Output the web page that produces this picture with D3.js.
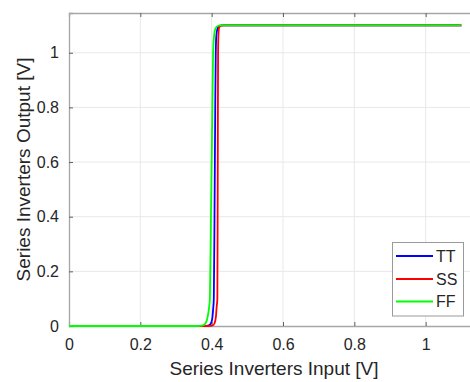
<!DOCTYPE html>
<html>
<head>
<meta charset="utf-8">
<script src="https://cdn.jsdelivr.net/npm/d3@7"></script>
<style>
  html, body { margin: 0; padding: 0; background: #fff; }
  svg { display: block; font-family: "Liberation Sans", Arial, sans-serif; }
</style>
</head>
<body>
<svg id="chart" width="470" height="382"></svg>
<script>
// Voltage transfer curves of the inverter chain at three process corners
const seriesNames = ["TT", "SS", "FF"];
const seriesColors = ["#0000ff", "#ff0000", "#00ff00"];

const ttInput  = [0, 0.380, 0.392, 0.398, 0.402, 0.404, 0.406, 0.408, 0.410, 0.4115, 0.413, 0.417, 0.423, 0.432, 1.1];
const ttOutput = [0, 0, 0.002, 0.010, 0.030, 0.060, 0.100, 0.400, 0.800, 1.000, 1.060, 1.090, 1.099, 1.1, 1.1];

const ssInput  = [0, 0.390, 0.403, 0.408, 0.412, 0.414, 0.416, 0.417, 0.418, 0.419, 0.421, 0.426, 0.435, 1.1];
const ssOutput = [0, 0, 0.002, 0.010, 0.035, 0.070, 0.100, 0.550, 1.000, 1.065, 1.092, 1.099, 1.1, 1.1];

const ffInput  = [0, 0.360, 0.375, 0.383, 0.389, 0.393, 0.395, 0.398, 0.401, 0.404, 0.407, 0.411, 0.417, 0.426, 1.1];
const ffOutput = [0, 0, 0.002, 0.010, 0.035, 0.070, 0.100, 0.400, 0.700, 1.000, 1.065, 1.090, 1.098, 1.1, 1.1];

const xTicks = [0, 0.2, 0.4, 0.6, 0.8, 1];
const yTicks = [0, 0.2, 0.4, 0.6, 0.8, 1];

const series = [
  { name: seriesNames[0], color: seriesColors[0], pts: d3.zip(ttInput, ttOutput) },
  { name: seriesNames[1], color: seriesColors[1], pts: d3.zip(ssInput, ssOutput) },
  { name: seriesNames[2], color: seriesColors[2], pts: d3.zip(ffInput, ffOutput) }
];

const svg = d3.select("#chart");
const plotL = 69, plotT = 13, plotB = 326, plotR = 497;

const x = d3.scaleLinear().domain([0, 1.2]).range([plotL, plotR]);
const y = d3.scaleLinear().domain([0, 1.1455]).range([plotB, plotT]);

const textColor = "#262626";
const axisColor = "#a6a6a6";

// grid
const grid = svg.append("g");
grid.selectAll(".gx").data(xTicks.slice(1)).join("line")
  .attr("x1", d => x(d)).attr("x2", d => x(d))
  .attr("y1", plotT).attr("y2", plotB)
  .attr("stroke", "#e8e8e8").attr("stroke-width", 1);
grid.selectAll(".gy").data(yTicks.slice(1)).join("line")
  .attr("x1", plotL).attr("x2", plotR)
  .attr("y1", d => y(d)).attr("y2", d => y(d))
  .attr("stroke", "#e8e8e8").attr("stroke-width", 1);

// axes with inward ticks
const xAxis = svg.append("g").attr("transform", `translate(0,${plotB})`)
  .call(d3.axisBottom(x).tickValues(xTicks).tickSize(-4).tickPadding(13)
    .tickFormat(d => d3.format("~g")(d)));
const xAxisTop = svg.append("g").attr("transform", `translate(0,${plotT})`)
  .call(d3.axisTop(x).tickValues(xTicks).tickSize(-4).tickFormat(""));
const yAxis = svg.append("g").attr("transform", `translate(${plotL},0)`)
  .call(d3.axisLeft(y).tickValues(yTicks).tickSize(-4).tickPadding(10)
    .tickFormat(d => d3.format("~g")(d)));

[xAxis, xAxisTop, yAxis].forEach(g => {
  g.select(".domain").attr("stroke", axisColor).attr("stroke-width", 1.3);
  g.selectAll(".tick line").attr("stroke", "#606060");
  g.selectAll("text").attr("fill", textColor).style("font-size", "16px")
    .style("font-family", "'Liberation Sans', Arial, sans-serif");
});
xAxis.selectAll("text").attr("dy", "0.71em");

// clip slightly beyond the frame so the baseline keeps its full width
svg.append("clipPath").attr("id", "plotclip").append("rect")
  .attr("x", plotL).attr("y", plotT).attr("width", plotR - plotL).attr("height", plotB - plotT + 3);

const line = d3.line().x(d => x(d[0])).y(d => y(d[1])).curve(d3.curveMonotoneX);
svg.append("g").attr("clip-path", "url(#plotclip)")
  .selectAll("path").data(series).join("path")
  .attr("d", d => line(d.pts))
  .attr("fill", "none")
  .attr("stroke", d => d.color)
  .attr("stroke-width", 1.8);

// axis titles
svg.append("text")
  .attr("x", 274).attr("y", 375)
  .attr("text-anchor", "middle")
  .attr("fill", textColor)
  .style("font-size", "19px")
  .text("Series Inverters Input [V]");
svg.append("text")
  .attr("transform", `translate(30,${(plotT + plotB) / 2}) rotate(-90)`)
  .attr("text-anchor", "middle")
  .attr("fill", textColor)
  .style("font-size", "19px")
  .text("Series Inverters Output [V]");

// legend
const lg = svg.append("g");
lg.append("rect")
  .attr("x", 392.5).attr("y", 242.5).attr("width", 71).attr("height", 73.5)
  .attr("fill", "#fff").attr("stroke", "#9a9a9a").attr("stroke-width", 1);
const rowY = [256, 279, 301.5];
series.forEach((s, i) => {
  lg.append("line")
    .attr("x1", 396).attr("x2", 433)
    .attr("y1", rowY[i]).attr("y2", rowY[i])
    .attr("stroke", s.color).attr("stroke-width", 1.8);
  lg.append("text")
    .attr("x", 436).attr("y", rowY[i]).attr("dy", "0.36em")
    .attr("fill", textColor)
    .style("font-size", "16px")
    .text(s.name);
});
</script>
</body>
</html>
